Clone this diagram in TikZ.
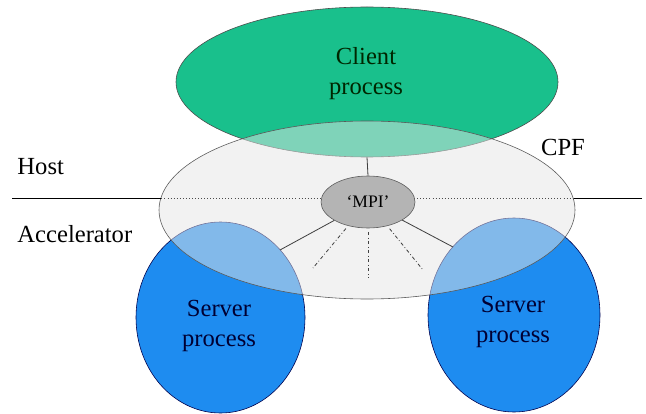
\documentclass[tikz,border=0pt]{standalone}
\usepackage{fontspec}
\setmainfont{Liberation Serif}
\usepackage{tikz}
\usetikzlibrary{shapes.geometric,positioning}
\definecolor{clientgreen}{HTML}{19C08C}
\definecolor{serverblue}{HTML}{1E8CF0}
\definecolor{cpfgray}{HTML}{E6E6E6}
\definecolor{mpigray}{HTML}{B4B4B4}

\begin{document}
\begin{tikzpicture}[
  blob/.style={ellipse, inner sep=0pt, draw=black!70, line width=0.5pt},
  lbl/.style={font=\fontsize{21}{26}\selectfont, align=center},
  spoke/.style={draw=black!75, line width=0.7pt}
]
\useasboundingbox (0,0) rectangle (19.38,-12.42);
% process ellipses
\node[blob, fill=clientgreen, minimum width=11.46cm, minimum height=4.5cm] (client) at (11.01,-2.46) {};
\node[blob, fill=serverblue, draw=blue!30!black, minimum width=5.07cm, minimum height=5.73cm] (srvL) at (6.615,-9.525) {};
\node[blob, fill=serverblue, draw=blue!30!black, minimum width=5.16cm, minimum height=5.82cm] (srvR) at (15.42,-9.45) {};
% CPF layer
\node[blob, fill=cpfgray, fill opacity=0.5, draw=black!65, minimum width=12.48cm, minimum height=5.34cm] (cpf) at (11.01,-6.3) {};
% host / accelerator border
\coordinate (hl) at (0.36,-5.94);
\coordinate (hr) at (19.26,-5.94);
\draw[line width=0.6pt] (hl) -- (hl -| cpf.176.67);
\draw[line width=0.6pt] (hr) -- (hr -| cpf.3.33);
\draw[black!70, dotted, line width=0.6pt] (hl -| cpf.176.67) -- (hr -| cpf.3.33);
% MPI
\node[blob, fill=mpigray, draw=black!65, minimum width=2.82cm, minimum height=1.56cm,
  font=\fontsize{15}{17}\selectfont] (mpi) at (11.04,-6.06) {`MPI'};
\draw[spoke] (client.south) -- (mpi.north);
\coordinate (sl) at (8.4,-7.5);
\coordinate (sr) at (13.59,-7.41);
\draw[spoke] (mpi) -- (sl);
\draw[spoke] (mpi) -- (sr);
\foreach \p in {(9.39,-8.04),(11.04,-8.31),(12.69,-8.1)}
  \draw[spoke, dash dot, shorten <=3pt] (mpi) -- \p;
% texts
\node[lbl, text=black!85!green] (ctxt) at (10.98,-2.2) {Client\\process};
\node[lbl, text=black!80!blue] (stxtL) at (6.57,-9.78) {Server\\process};
\node[lbl, text=black!80!blue] (stxtR) at (15.39,-9.66) {Server\\process};
\node[lbl, anchor=west] (host) at (0.4,-5.01) {Host};
\node[lbl, anchor=west] (accel) at (0.4,-7.02) {Accelerator};
\node[lbl] (cpflbl) at (16.89,-4.41) {CPF};
\end{tikzpicture}
\end{document}
